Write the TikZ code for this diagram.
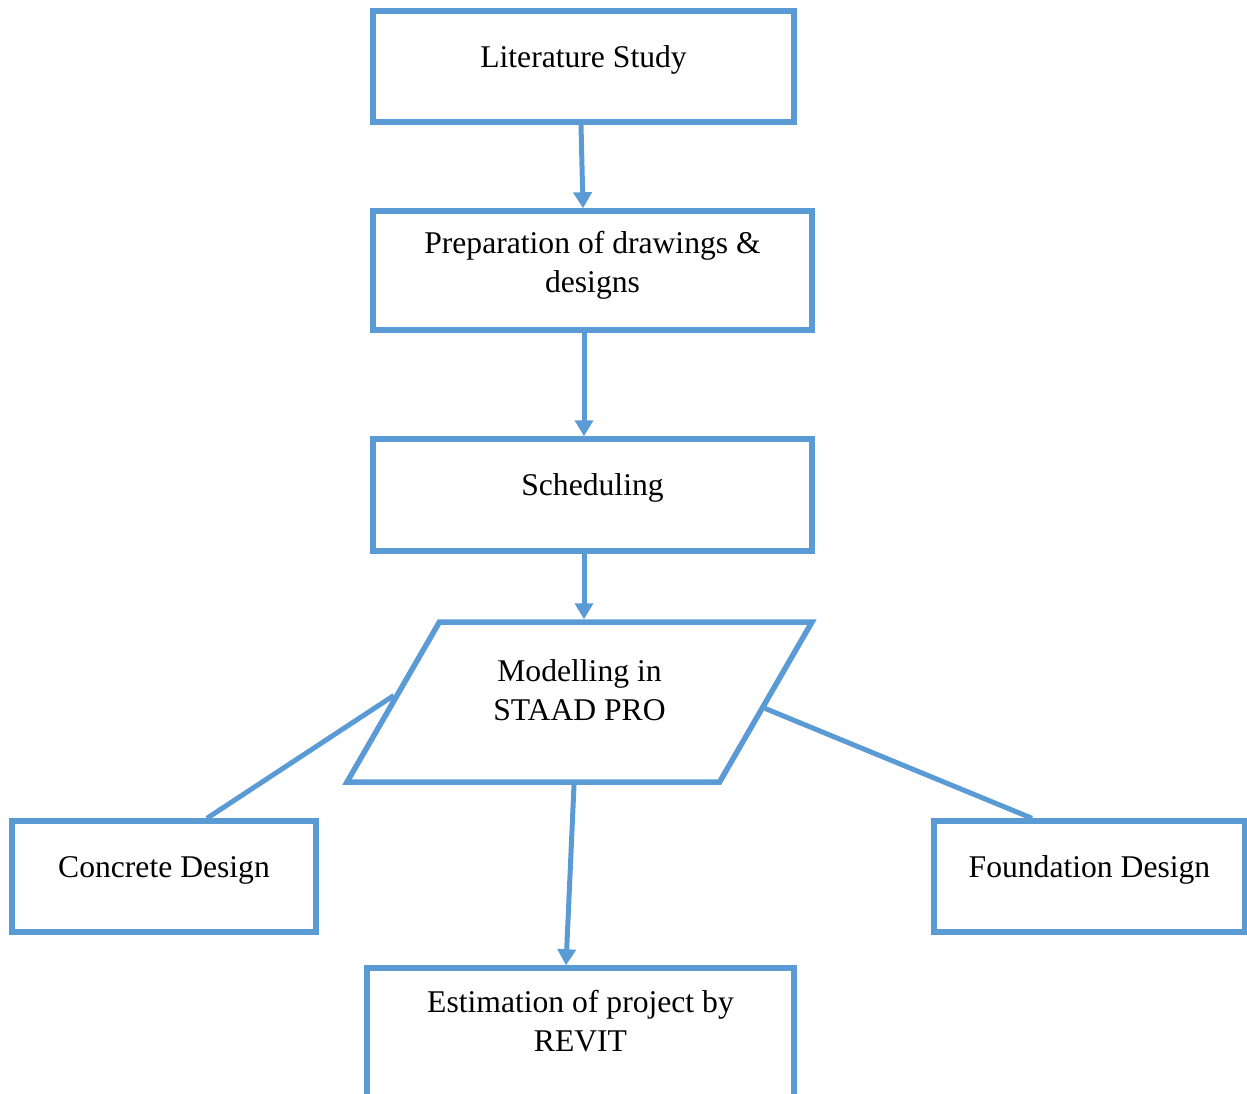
\documentclass[tikz,border=0pt]{standalone}
\usepackage{fontspec}
\setmainfont{Liberation Serif}
\usetikzlibrary{arrows.meta,positioning,shapes.geometric}
\definecolor{Frame}{HTML}{5B9BD5}
\tikzset{
 every node/.style={font=\fontsize{18}{22.1}\selectfont,text=black},
 stepbox/.style={draw=Frame,line width=1.1mm,align=center,text height=4mm,text depth=3.8mm},
 slant/.style={stepbox,trapezium,trapezium left angle=60,trapezium right angle=120,trapezium stretches body=true,inner ysep=0pt},
 arr/.style={-{Triangle[length=3.2mm,width=3.6mm]},draw=Frame,line width=1mm},
 link/.style={draw=Frame,line width=1mm},
}
\begin{document}
\begin{tikzpicture}[x=0.02cm,y=-0.02cm]
 \useasboundingbox (0,0) rectangle (1247,1093);
 \clip (0,0) rectangle (1247,1093);
 % boxes
 \node[stepbox,minimum width=8.42cm,minimum height=2.22cm] (lit) at (583.5,66.5) {Literature Study};
 \node[stepbox,minimum width=8.78cm,minimum height=2.38cm,text height=12.6mm,text depth=4mm] (prep) at (592.5,270.5) {Preparation of drawings \&\\designs};
 \node[stepbox,minimum width=8.78cm,minimum height=2.24cm] (sched) at (592.5,495) {Scheduling};
 \node[slant,minimum width=9.3cm,minimum height=3.2cm,text height=19.6mm,text depth=12.4mm] (staad) at (579.5,702) {Modelling in\\STAAD PRO};
 \node[stepbox,minimum width=6.08cm,minimum height=2.22cm] (conc) at (164,876.5) {Concrete Design};
 \node[stepbox,minimum width=6.22cm,minimum height=2.22cm] (found) at (1089.5,876.5) {Foundation Design};
 \node[stepbox,minimum width=8.54cm,minimum height=3.24cm,text height=4.8mm,text depth=4mm] (est) at (580.5,1049) {Estimation of project by\\REVIT};
 % connectors
 \draw[arr] ([xshift=-0.05cm]lit.south) -- ([xshift=-0.19cm]prep.north);
 \draw[arr] ([xshift=-0.17cm]prep.south) -- ([xshift=-0.17cm]sched.north);
 \draw[arr] ([xshift=-0.17cm]sched.south) -- ([xshift=-0.17cm]sched.south |- staad.north);
 \draw[arr] ([xshift=-0.11cm]staad.south) -- ([xshift=-0.29cm]est.north);
 \draw[link] (staad.178) -- ([xshift=0.86cm]conc.north);
 \draw[link] (staad.358) -- ([xshift=-1.15cm]found.north);
\end{tikzpicture}
\end{document}
